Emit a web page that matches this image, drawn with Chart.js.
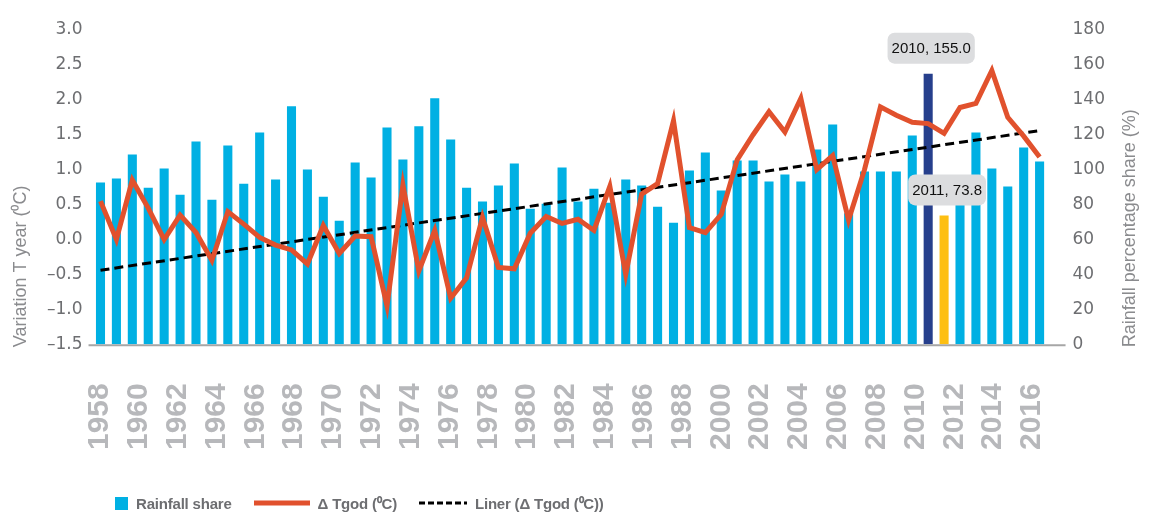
<!DOCTYPE html>
<html>
<head>
<meta charset="utf-8">
<script src="https://cdn.jsdelivr.net/npm/chart.js@4.4.1/dist/chart.umd.min.js"></script>
<style>
  html, body { margin: 0; padding: 0; background: #fff; }
  #wrap { position: relative; width: 1149px; height: 516px; }
  #chart { position: absolute; left: 0; top: 0; }
  #legend {
    position: absolute; left: 115px; top: 493px;
    display: flex; align-items: center;
    font: bold 15px 'Liberation Sans', sans-serif;
    letter-spacing: -0.2px;
    color: #6d6e71;
  }
  .item { display: flex; align-items: center; margin-right: 22px; }
  .item svg { margin-right: 8px; }
</style>
</head>
<body>
<div id="wrap">
  <canvas id="chart" width="1149" height="516"></canvas>
  <div id="legend"></div>
</div>
<script>
// Years on the bar axis
const years = [
  '1958', '1959', '1960', '1961', '1962', '1963', '1964', '1965', '1966', '1967',
  '1968', '1969', '1970', '1971', '1972', '1973', '1974', '1975', '1976', '1977',
  '1978', '1979', '1980', '1981', '1982', '1983', '1984', '1985', '1986', '1987',
  '1988', '1989', '1990', '1991', '1992', '1993', '1994', '1995', '1996', '1997',
  '1998', '1999', '2000', '2001', '2002', '2003', '2004', '2005', '2006', '2007',
  '2008', '2009', '2010', '2011', '2012', '2013', '2014', '2015', '2016', '2017'
];

// Labels printed under the axis
const xTickLabels = [
  '1958', '1960', '1962', '1964', '1966', '1968', '1970', '1972', '1974', '1976',
  '1978', '1980', '1982', '1984', '1986', '1988', '2000', '2002', '2004', '2006',
  '2008', '2010', '2012', '2014', '2016'
];

// Rainfall share, % (right axis)
const rainShare = [
  92.6, 94.9, 108.7, 89.7, 100.6, 85.7, 116.2, 82.8, 113.9, 92.0,
  121.3, 94.3, 136.3, 100.1, 84.5, 70.7, 104.1, 95.5, 124.2, 105.8,
  124.8, 140.9, 117.3, 89.7, 81.7, 90.9, 103.5, 77.6, 80.5, 101.2,
  81.7, 89.1, 81.1, 94.3, 90.9, 78.8, 69.6, 99.5, 109.8, 88.0,
  105.2, 105.2, 93.2, 97.2, 93.2, 111.6, 125.9, 75.0, 98.9, 98.9,
  98.9, 119.6, 155.0, 73.8, 85.0, 121.3, 100.6, 90.3, 112.7, 104.7
];

// Yearly temperature deviation, degC (left axis)
const deltaT = [
  0.55, 0.00, 0.85, 0.45, 0.00, 0.35, 0.10, -0.30, 0.40, 0.22,
  0.03, -0.08, -0.15, -0.35, 0.20, -0.20, 0.05, 0.04, -0.95, 0.78,
  -0.45, 0.13, -0.84, -0.55, 0.32, -0.40, -0.42, 0.09, 0.33, 0.23,
  0.29, 0.13, 0.76, -0.50, 0.65, 0.80, 1.70, 0.17, 0.10, 0.36,
  1.14, 1.50, 1.83, 1.54, 2.02, 1.00, 1.20, 0.28, 1.00, 1.90,
  1.78, 1.68, 1.66, 1.52, 1.89, 1.95, 2.42, 1.75, 1.48, 1.18
];

// Linear trend of deltaT, first and last year
const trendEnds = [-0.44, 1.56];

// Years with a value callout
const highlighted = { '2010': '#263f8c', '2011': '#fdbf12' };

const leftTitle = 'Variation T year (\u2070C)';
const rightTitle = 'Rainfall percentage share (%)';

Chart.defaults.font.family = "'DejaVu Sans', sans-serif";

const trendData = [
  { x: years[0], y: trendEnds[0] },
  { x: years[years.length - 1], y: trendEnds[1] }
];
const barColors = years.map(y => highlighted[y] || '#00b0e3');

// grey base line under the bars, a bit longer than the plot on both sides
const baseLine = {
  id: 'baseLine',
  beforeDatasetsDraw(chart) {
    const { ctx, chartArea } = chart;
    ctx.save();
    ctx.strokeStyle = '#a6a6a6';
    ctx.lineWidth = 2;
    ctx.beginPath();
    ctx.moveTo(chartArea.left - 4, chartArea.bottom + 1);
    ctx.lineTo(chartArea.right + 18, chartArea.bottom + 1);
    ctx.stroke();
    ctx.restore();
  }
};

// vertical axis titles, both start at the bottom of the plot and read upwards
const axisTitles = {
  id: 'axisTitles',
  afterDraw(chart) {
    const { ctx, chartArea } = chart;
    ctx.save();
    ctx.font = "18px 'Liberation Sans', sans-serif";
    ctx.fillStyle = '#8a8b8e';
    ctx.textAlign = 'left';
    ctx.textBaseline = 'middle';
    [[21, leftTitle], [1130, rightTitle]].forEach(([x, text]) => {
      ctx.save();
      ctx.translate(x, chartArea.bottom + 3);
      ctx.rotate(-Math.PI / 2);
      ctx.fillText(text, 0, 0);
      ctx.restore();
    });
    ctx.restore();
  }
};

// grey boxes with "year, value" above the highlighted bars
const valueBoxes = {
  id: 'valueBoxes',
  afterDatasetsDraw(chart) {
    const { ctx } = chart;
    const meta = chart.getDatasetMeta(0);
    ctx.save();
    ctx.font = "15px 'Liberation Sans', sans-serif";
    years.forEach((yr, i) => {
      if (!highlighted[yr]) return;
      const bar = meta.data[i];
      const text = yr + ', ' + rainShare[i].toFixed(1);
      const w = ctx.measureText(text).width + 8;
      const h = 31;
      const cx = bar.x + 3;
      const top = bar.y - 10 - h;
      ctx.fillStyle = '#dcdddf';
      ctx.beginPath();
      ctx.roundRect(cx - w / 2, top, w, h, 7);
      ctx.fill();
      ctx.fillStyle = '#111';
      ctx.textAlign = 'center';
      ctx.textBaseline = 'middle';
      ctx.fillText(text, cx, top + h / 2 + 1);
    });
    ctx.restore();
  }
};

const chart = new Chart(document.getElementById('chart'), {
  type: 'bar',
  data: {
    labels: years,
    datasets: [
      {
        type: 'bar',
        label: 'Rainfall share',
        data: rainShare,
        yAxisID: 'y1',
        backgroundColor: barColors,
        barPercentage: 0.57,
        categoryPercentage: 1,
        order: 2
      },
      {
        type: 'line',
        label: '\u0394 Tgod (\u2070C)',
        data: deltaT,
        yAxisID: 'y',
        borderColor: '#e1512d',
        borderWidth: 5,
        borderJoinStyle: 'miter',
        pointRadius: 0,
        tension: 0,
        order: 0
      },
      {
        type: 'line',
        label: 'Liner (\u0394 Tgod (\u2070C))',
        data: trendData,
        yAxisID: 'y',
        borderColor: '#000',
        borderWidth: 3,
        borderDash: [9, 5],
        pointRadius: 0,
        order: 1
      }
    ]
  },
  options: {
    responsive: false,
    animation: false,
    layout: { padding: { left: 37, right: 19, top: 30, bottom: 66 } },
    plugins: {
      legend: { display: false },
      tooltip: { enabled: false }
    },
    scales: {
      x: { display: false, offset: true },
      x2: {
        type: 'linear',
        position: 'bottom',
        offset: false,
        min: -0.193,
        max: 24.4,
        // tick marks hidden, their length only pushes the labels down
        grid: { display: false, drawTicks: true, tickLength: 39 },
        border: { display: false },
        afterBuildTicks: axis => {
          axis.ticks = xTickLabels.map((_, i) => ({ value: i }));
        },
        ticks: {
          autoSkip: false,
          minRotation: 90,
          maxRotation: 90,
          padding: 0,
          color: '#b7b8bb',
          font: { family: "'Liberation Sans', sans-serif", size: 30, weight: 'bold' },
          callback: v => xTickLabels[v] ?? ''
        }
      },
      y: {
        position: 'left',
        min: -1.5,
        max: 3.0,
        grid: { display: false, drawTicks: false },
        border: { display: false },
        ticks: {
          stepSize: 0.5,
          padding: 10,
          color: '#6d6e71',
          font: { size: 17 },
          callback: v => v.toFixed(1).replace('-', '\u2013')
        }
      },
      y1: {
        position: 'right',
        min: 0,
        max: 180,
        grid: { display: false, drawTicks: false },
        border: { display: false },
        // the wide label gap should not push the plot top down
        afterFit: axis => {
          axis.paddingTop = 10;
          axis.paddingBottom = 10;
        },
        ticks: {
          stepSize: 20,
          padding: 25,
          color: '#6d6e71',
          font: { size: 17 }
        }
      }
    }
  },
  plugins: [baseLine, axisTitles, valueBoxes]
});

// legend below the chart, built from the datasets
function buildLegend() {
  const legend = document.getElementById('legend');
  legend.innerHTML = '';
  chart.data.datasets.forEach(ds => {
    const item = document.createElement('span');
    item.className = 'item';
    let marker;
    if (ds.type === 'bar') {
      marker = '<svg width="13" height="13"><rect width="13" height="13" fill="#00b0e3"/></svg>';
    } else if (ds.borderDash) {
      marker = `<svg width="48" height="6"><line x1="0" y1="3" x2="48" y2="3" stroke="${ds.borderColor}" stroke-width="3" stroke-dasharray="6,3"/></svg>`;
    } else {
      marker = `<svg width="56" height="6"><line x1="0" y1="3" x2="56" y2="3" stroke="${ds.borderColor}" stroke-width="5"/></svg>`;
    }
    item.innerHTML = marker + `<span>${ds.label}</span>`;
    legend.appendChild(item);
  });
}

buildLegend();
</script>
</body>
</html>
